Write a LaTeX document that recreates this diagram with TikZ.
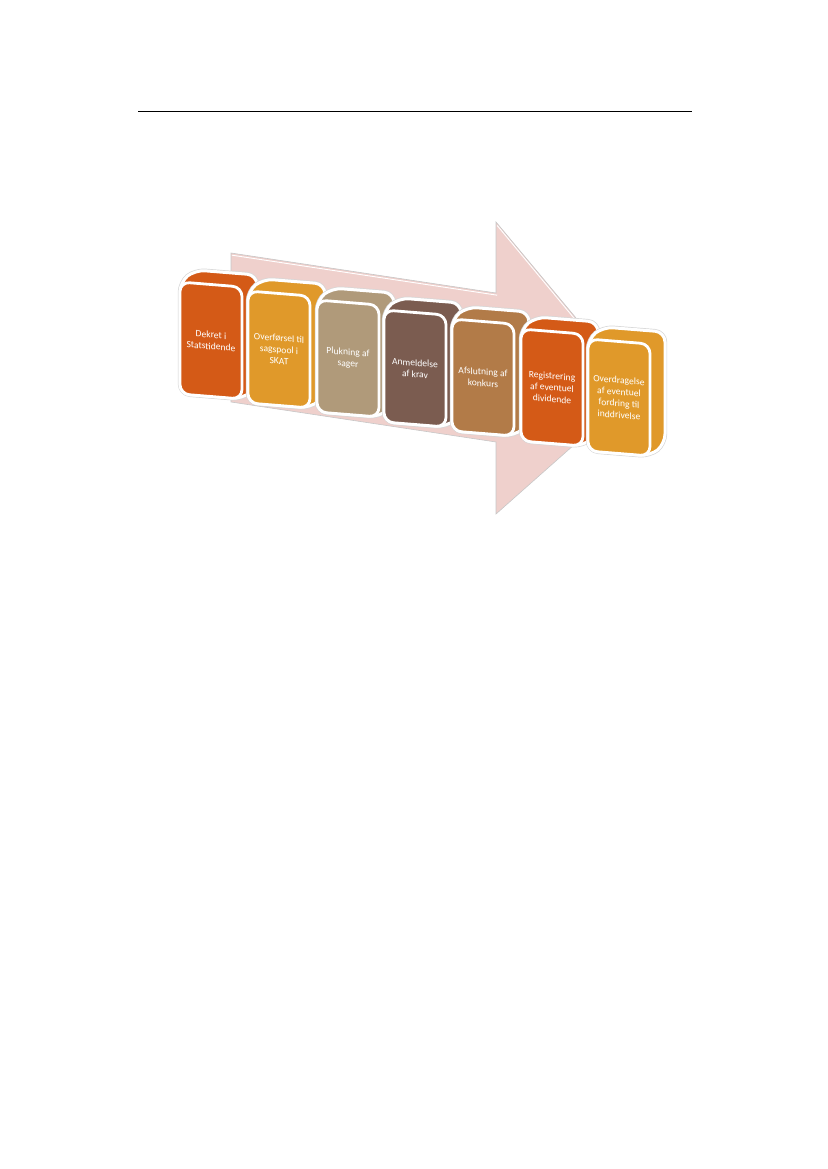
\documentclass[tikz,border=0pt]{standalone}
\usepackage{fontspec}
\setmainfont{Carlito}
\usetikzlibrary{calc}
\definecolor{cA}{HTML}{D45A17}
\definecolor{cB}{HTML}{E0992A}
\definecolor{cC}{HTML}{B09A7A}
\definecolor{cD}{HTML}{7B5C50}
\definecolor{cE}{HTML}{B27B48}
\definecolor{arrowpink}{HTML}{EFD0CC}
\tikzset{
  silout/.style={draw=black!16, line width=4.4pt, rounded corners=10pt, line join=round},
  silin/.style={draw=white, line width=3pt, rounded corners=10pt, line join=round},
  frontface/.style={draw=white, line width=2.8pt, rounded corners=9.5pt, line join=round},
  boxtext/.style={align=center, text=white, inner sep=0pt, font=\fontsize{9.6}{11.6}\selectfont, yslant=-0.08},
  arrowshape/.style={fill=arrowpink, draw=black!22, line width=0.6pt, line join=miter},
  arrowhl/.style={draw=white, line width=0.9pt},
  rulestyle/.style={draw=black, line width=0.9pt}
}
\newcommand{\procbox}[5]{%
  \coordinate (#1-tl) at (#2,#3);
  \coordinate (#1-tr) at ($(#1-tl)+(62,5)$);
  \coordinate (#1-br) at ($(#1-tr)+(0,112)$);
  \coordinate (#1-bl) at ($(#1-tl)+(0,112)$);
  \coordinate (#1-btl) at ($(#1-tl)+(15,-12)$);
  \coordinate (#1-btr) at ($(#1-tr)+(15,-12)$);
  \coordinate (#1-bbr) at ($(#1-br)+(15,-12)$);
  \path[silout] (#1-bl) -- (#1-tl) -- (#1-btl) -- (#1-btr) -- (#1-bbr) -- (#1-br) -- cycle;
  \path[silin, fill=#4] (#1-bl) -- (#1-tl) -- (#1-btl) -- (#1-btr) -- (#1-bbr) -- (#1-br) -- cycle;
  \path[frontface, fill=#4] (#1-tl) -- (#1-tr) -- (#1-br) -- (#1-bl) -- cycle;
  \node[boxtext] (#1) at ($(#1-tl)!0.5!(#1-br)$) {#5};
}
\begin{document}
\begin{tikzpicture}[x=1pt,y=-1pt]
\useasboundingbox (0,0) rectangle (827,1169);
% top rule
\coordinate (r1) at (138,111);
\coordinate (r2) at (692,111);
\draw[rulestyle] (r1) -- (r2);
% big arrow
\coordinate (a1) at (231,253);
\coordinate (a2) at (496,293);
\coordinate (a3) at (496,222);
\coordinate (a4) at (636,390);
\coordinate (a5) at (496,514);
\coordinate (a6) at (496,442);
\coordinate (a7) at (231,402);
\path[arrowshape] (a1) -- (a2) -- (a3) -- (a4) -- (a5) -- (a6) -- (a7) -- cycle;
\draw[arrowhl] ($(a1)+(1,2.2)$) -- ($(a2)+(1.2,2.2)$);
\draw[arrowhl] ($(a3)+(1.2,3.5)$) -- ($(a4)+(-2,0.5)$);
% boxes
\procbox{b1}{180}{282}{cA}{Dekret i\\Statstidende}
\procbox{b2}{248}{291}{cB}{Overførsel til\\sagspool i\\SKAT}
\procbox{b3}{317}{300}{cC}{Plukning af\\sager}
\procbox{b4}{384}{310}{cD}{Anmeldelse\\af krav}
\procbox{b5}{452}{319}{cE}{Afslutning af\\konkurs}
\procbox{b6}{521}{329}{cA}{Registrering\\af eventuel\\dividende}
\procbox{b7}{588}{339}{cB}{Overdragelse\\af eventuel\\fordring til\\inddrivelse}
\end{tikzpicture}
\end{document}
